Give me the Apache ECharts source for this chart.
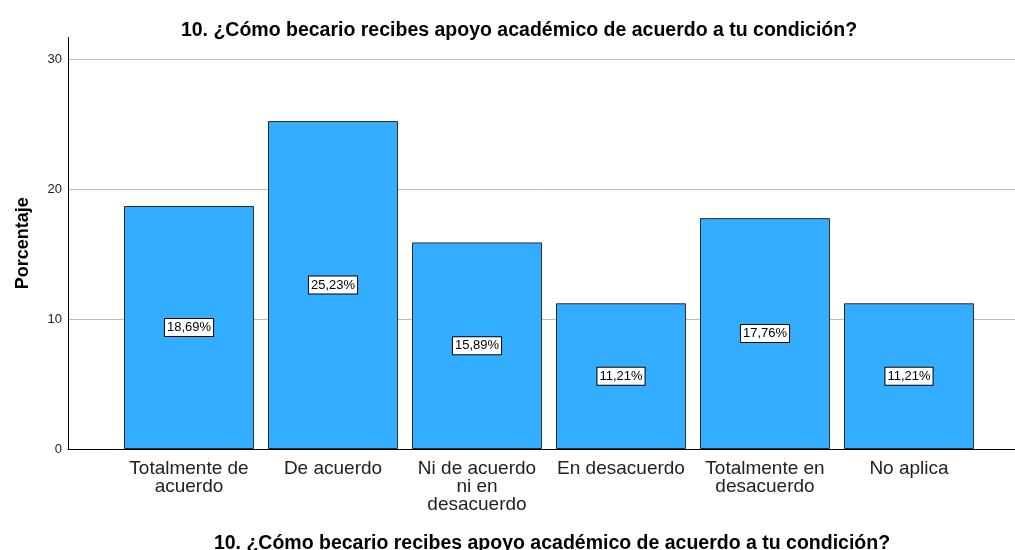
<!DOCTYPE html>
<html><head><meta charset="utf-8">
<script src="https://cdn.jsdelivr.net/npm/echarts@6/dist/echarts.min.js"></script>
<style>html,body{margin:0;padding:0;background:#fff}#c{width:1015px;height:550px}</style>
</head><body><div id="c"></div>
<script>
const titleText = '10. ¿Cómo becario recibes apoyo académico de acuerdo a tu condición?';
const categories = ['Totalmente de\nacuerdo', 'De acuerdo', 'Ni de acuerdo\nni en\ndesacuerdo', 'En desacuerdo', 'Totalmente en\ndesacuerdo', 'No aplica'];
const values = [18.69, 25.23, 15.89, 11.21, 17.76, 11.21];
const yTicks = [0, 10, 20, 30];
const yName = 'Porcentaje';

const chart = echarts.init(document.getElementById('c'), null, {renderer: 'canvas'});
const font = 'Arial, "Liberation Sans", sans-serif';
chart.setOption({
  animation: false,
  backgroundColor: '#fff',
  title: [
    {text: titleText, left: 514, top: 16, textAlign: 'center',
     textStyle: {fontFamily: font, fontSize: 19.5, fontWeight: 'bold', color: '#000'}},
    {text: titleText, left: 547, top: 529, textAlign: 'center',
     textStyle: {fontFamily: font, fontSize: 19.5, fontWeight: 'bold', color: '#000'}}
  ],
  grid: [
    {left: 68, right: 0, top: 37.5, height: 411.5, containLabel: false},
    {left: 68, right: 0, top: 59, height: 390, containLabel: false},
    {left: 117, right: 34, top: 59, height: 390, containLabel: false}
  ],
  xAxis: [
    {gridIndex: 0, type: 'value', min: 0, max: 1, show: true,
     axisLine: {show: true, onZero: false, lineStyle: {color: '#000', width: 1}},
     axisTick: {show: false}, axisLabel: {show: false}, splitLine: {show: false}},
    {gridIndex: 1, type: 'value', min: 0, max: 1, show: false},
    {gridIndex: 2, type: 'category', data: categories,
     axisLine: {show: false}, axisTick: {show: false},
     axisLabel: {interval: 0, margin: 11, fontFamily: font, fontSize: 19, color: '#222', lineHeight: 18}}
  ],
  yAxis: [
    {gridIndex: 0, type: 'value', min: 0, max: 31.65,
     axisLine: {show: true, lineStyle: {color: '#000', width: 1}},
     axisTick: {show: false}, axisLabel: {show: false}, splitLine: {show: false},
     name: yName, nameLocation: 'middle', nameGap: 36, nameRotate: 90,
     nameTextStyle: {fontFamily: font, fontSize: 18, fontWeight: 'bold', color: '#000'}},
    {gridIndex: 1, type: 'value', min: yTicks[0], max: yTicks[yTicks.length - 1], interval: 10,
     axisLine: {show: false}, axisTick: {show: false},
     axisLabel: {margin: 6, fontFamily: font, fontSize: 13, color: '#222'},
     splitLine: {show: true, lineStyle: {color: '#bdbdbd', width: 1}}},
    {gridIndex: 2, type: 'value', min: yTicks[0], max: yTicks[yTicks.length - 1], show: false}
  ],
  series: [{
    type: 'bar', xAxisIndex: 2, yAxisIndex: 2, data: values, barWidth: 130,
    itemStyle: {color: '#33adff', borderColor: '#2b2b2b', borderWidth: 1},
    label: {show: true, position: 'inside',
      formatter: p => p.value.toFixed(2).replace('.', ',') + '%',
      fontFamily: font, fontSize: 13, lineHeight: 15, color: '#000',
      backgroundColor: '#fff', borderColor: '#000', borderWidth: 1, padding: [1, 2, 1, 2]}
  }]
});
</script></body></html>
